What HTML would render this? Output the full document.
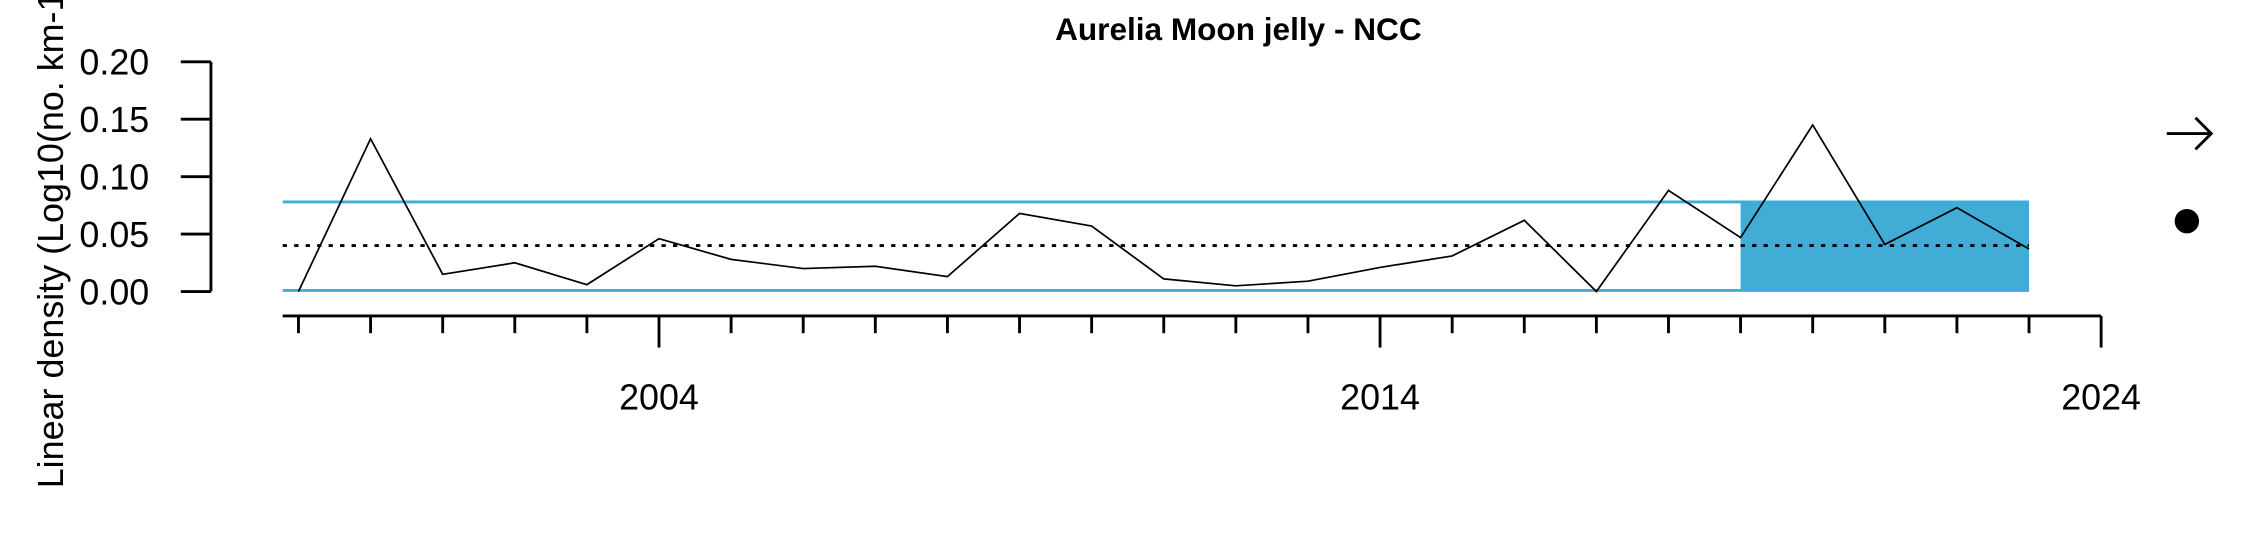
<!DOCTYPE html>
<html><head><meta charset="utf-8"><style>html,body{margin:0;padding:0;background:#fff}svg{display:block}</style></head>
<body>
<svg id="chart" width="2250" height="540" viewBox="0 0 1568 376" preserveAspectRatio="none" xmlns="http://www.w3.org/2000/svg" font-family="Liberation Sans, sans-serif">
<text x="863" y="28" text-anchor="middle" font-size="22" font-weight="bold">Aurelia Moon jelly - NCC</text>
<text transform="translate(44,340) rotate(-90)" font-size="25" text-anchor="start">Linear density (Log10(no. km-1))</text>
<g id="plot"></g>
<g stroke="#000" stroke-width="2" fill="none">
<line x1="1510" y1="93" x2="1541" y2="93"/>
<polyline points="1530,82 1541,93 1530,104"/>
</g>
<circle cx="1524" cy="154" r="8.5" fill="#000"/>
</svg>
<script>
const years=[1999,2000,2001,2002,2003,2004,2005,2006,2007,2008,2009,2010,2011,2012,2013,2014,2015,2016,2017,2018,2019,2020,2021,2022,2023];
const values=[0.0,0.133,0.015,0.025,0.006,0.046,0.028,0.020,0.022,0.013,0.068,0.057,0.011,0.005,0.009,0.021,0.031,0.062,0.0,0.088,0.047,0.145,0.041,0.073,0.037];
const meanValue=0.040;
const upperBand=0.078;
const lowerBand=0.001;
const shadeStart=2019, shadeEnd=2023;
const yTicks=[0,0.05,0.10,0.15,0.20];
const yTickLabels=["0.00","0.05","0.10","0.15","0.20"];
const xMajor=[2004,2014,2024];
const ns="http://www.w3.org/2000/svg";
const g=document.getElementById('plot');
const X=yr=>208+(yr-1999)*50.25;
const Y=v=>203-v*800;
function mk(t,a){const e=document.createElementNS(ns,t);for(const k in a)e.setAttribute(k,a[k]);g.appendChild(e);return e;}
const x0=197, x1=X(2023);
let e;
e=mk('rect',{x:X(shadeStart),y:Y(upperBand),width:X(shadeEnd)-X(shadeStart),height:Y(lowerBand)-Y(upperBand),fill:'#41acd6'});

e=mk('line',{x1:x0,x2:x1,y1:Y(upperBand),y2:Y(upperBand),stroke:'#41acd6','stroke-width':2});

e=mk('line',{x1:x0,x2:x1,y1:Y(lowerBand),y2:Y(lowerBand),stroke:'#41acd6','stroke-width':2});

e=mk('line',{x1:x0,x2:x1,y1:Y(meanValue),y2:Y(meanValue),stroke:'#000','stroke-width':2,'stroke-dasharray':'3,5'});

e=mk('polyline',{points:years.map((y,i)=>X(y)+','+Y(values[i])).join(' '),fill:'none',stroke:'#000','stroke-width':1.2});

e=mk('line',{x1:147,x2:147,y1:Y(0.2),y2:Y(0),stroke:'#000','stroke-width':2});

yTicks.forEach((v,i)=>{
 e=mk('line',{x1:126,x2:147,y1:Y(v),y2:Y(v),stroke:'#000','stroke-width':2});
 
 e=mk('text',{x:104,y:Y(v)+9,'text-anchor':'end','font-size':25});e.textContent=yTickLabels[i];
 
});
e=mk('line',{x1:x0,x2:X(2024),y1:220,y2:220,stroke:'#000','stroke-width':2});

for(let yr=1999;yr<=2024;yr++){
 const major=xMajor.includes(yr);
 e=mk('line',{x1:X(yr),x2:X(yr),y1:220,y2:major?242:232,stroke:'#000','stroke-width':2});
 
}
xMajor.forEach(yr=>{
 e=mk('text',{x:X(yr),y:285,'text-anchor':'middle','font-size':25});e.textContent=String(yr);
 
});
</script>
</body></html>
